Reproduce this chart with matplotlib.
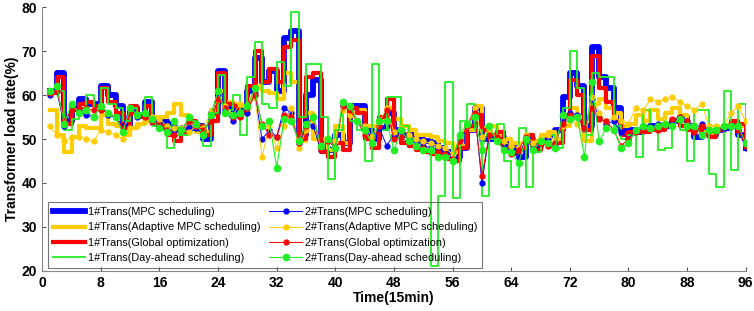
import numpy as np
import matplotlib
matplotlib.use('Agg')
import matplotlib.pyplot as plt

plt.rcParams['font.family'] = ['Liberation Sans', 'DejaVu Sans']

# Time steps (15 min)
t = np.arange(1, 97)

# 1#Trans, stairs
mpc1 = [61, 65, 54, 57, 59, 58, 58, 62, 60, 57.5, 53, 57, 55.5, 58.5, 54, 54,
        53.5, 52, 51.5, 52.5, 53, 50, 56, 65.5, 57.5, 56.5, 57, 61, 68.5, 63, 65.5, 61,
        73, 74.5, 51, 60, 63.5, 48, 47.5, 51, 49, 57.5, 57.5, 52, 50, 52.5, 56, 52,
        51, 51, 50, 49.5, 49, 48, 47, 46, 48, 52, 57, 50, 50, 50.5, 49, 48,
        46, 50, 48.5, 49.5, 51, 52, 59.5, 65, 62, 53, 71, 64, 61.5, 57, 52, 52,
        51.5, 52, 53, 53, 53, 54, 55, 53, 50.5, 52, 51, 52, 52.5, 53, 51, 48]
adaptive1 = [56.5, 51, 47, 50.5, 53, 52.5, 52.5, 55.5, 53.5, 53, 51, 52.5, 53.5, 54, 55, 55,
             56, 58, 55.5, 52.5, 51.5, 51.5, 56.5, 61, 58.5, 58, 57.5, 59, 62, 61, 60.5, 59,
             65, 63, 49.5, 56, 50, 50, 47.5, 53, 49, 56, 56.5, 53, 53, 54.5, 57, 54.5,
             53, 52, 51, 51, 50.5, 49.5, 49, 47, 48.5, 52, 57.5, 52.5, 53, 51, 50, 49,
             48, 51, 49.5, 51, 51.5, 50, 53, 57, 55, 49.5, 58, 59, 57, 56, 53, 53.5,
             55.5, 54, 56.5, 54.5, 56, 57, 55.5, 53, 52.5, 51.5, 51, 52, 53, 54, 53, 49]
global1 = [60.5, 64, 53.5, 56.5, 58, 58.5, 57.5, 61.5, 58.5, 56, 52.5, 57.5, 55, 57.5, 53.5, 53,
           51, 49.5, 51.5, 54, 53, 51, 54, 65, 58, 57.5, 56, 62, 70, 63, 66, 63,
           71, 72.5, 50, 64, 65, 47, 46, 49, 47.5, 57, 56, 50, 48, 55, 59, 50.5,
           49, 48.5, 47.5, 47, 46.5, 46.5, 45.5, 45, 48, 53, 55.5, 52, 51, 51.5, 48, 46.5,
           48, 51, 47.5, 49, 48.5, 49, 55.5, 63.5, 60, 52, 69, 61.5, 58.5, 54, 51, 51.5,
           51.5, 51.5, 52, 52, 53.5, 54, 53, 52, 52, 51, 50.5, 52, 53, 54, 53.5, 48.5]
dayahead1 = [61, 61, 52, 54.5, 57, 60, 56.5, 61.5, 58, 57, 54, 57, 56, 59.5, 53, 52,
             48, 51, 51, 54, 52, 48.5, 56, 64.5, 56.5, 60, 51, 64, 72, 58, 57, 67.5,
             62, 79, 55, 67, 67, 55, 41, 52, 58, 54, 52, 45, 67, 52, 59.5, 59.5,
             53, 50, 49, 47, 21, 37, 63, 36.5, 54, 58, 52, 37, 50, 53.5, 45, 39,
             52.5, 39, 47, 49.5, 51, 48, 57, 70, 61.5, 51, 65, 64, 64, 53, 50, 51,
             46, 56.5, 52, 47.5, 48, 54, 52, 45, 56.5, 56.5, 42, 39, 61, 43, 58, 49]

# 2#Trans, lines with markers
mpc2 = [60, 61, 53, 57, 56.5, 55.5, 55, 57.5, 55.5, 55, 53, 57, 55, 55.5, 54, 53,
        52, 52, 52.5, 52.5, 52.5, 51, 55, 60, 56.5, 54, 55.5, 56, 60.5, 50, 52, 50.5,
        57, 56, 49, 54, 53, 47.5, 50, 48, 57.5, 57.5, 54, 52.5, 50, 52.5, 48.5, 51,
        51.5, 50, 49.5, 48.5, 48, 47.5, 47, 46, 50, 53, 57, 40, 51, 50, 48, 47.5,
        46, 50, 48, 49.5, 50, 48.5, 54, 56, 55.5, 52, 59, 55, 53.5, 54, 51.5, 50,
        52, 53, 53, 53.5, 53.5, 54, 55, 54, 52, 53.5, 52, 52, 52.5, 53, 52, 48]
adaptive2 = [53, 51, 49.5, 50.5, 50.5, 50, 49.5, 52, 51.5, 51, 50, 52.5, 53, 54, 55, 54.5,
             53, 52.5, 52.5, 51.5, 53, 52.5, 56, 59, 57.5, 55.5, 58, 57, 60, 46, 53, 48,
             53, 57, 48, 52, 55.5, 48, 50, 49.5, 56.5, 55.5, 54, 53, 50.5, 54, 57, 51.5,
             52.5, 51, 50, 49.5, 49, 48.5, 48, 46.5, 50.5, 53, 57, 50.5, 52, 50.5, 49.5, 48.5,
             48, 51, 49, 50.5, 51, 49.5, 53, 54.5, 53.5, 51, 59.5, 56, 54, 55, 54, 53.5,
             57, 56.5, 59, 58.5, 59, 59.5, 58.5, 57.5, 56.5, 58, 53, 53, 53, 56, 57.5, 54]
global2 = [60.5, 61, 54, 56.5, 57, 57, 56.5, 56.5, 56, 55, 52.5, 56, 55.5, 55, 54, 53,
           52, 51, 52, 54, 53, 52, 54, 59, 57, 55, 55, 57, 60, 53.5, 51, 50.5,
           55.5, 55, 49, 53, 55, 47.5, 49.5, 48, 57.5, 56.5, 54, 51, 49, 53, 56.5, 50,
           50.5, 49, 48.5, 48, 47.5, 47, 46.5, 45.5, 49.5, 53, 56, 41.5, 51, 50.5, 47.5, 46.5,
           47.5, 50.5, 47.5, 49, 48.5, 49, 53.5, 55.5, 55, 52.5, 57, 54.5, 54, 52, 48.5, 50,
           51.5, 52, 52.5, 52, 53, 54.5, 55, 54, 51.5, 53, 52, 51.5, 53, 53.5, 52, 48.5]
dayahead2 = [61, 62, 53.5, 58, 56, 56.5, 55, 57.5, 56, 55, 51.5, 57, 55.5, 56, 54.5, 52.5,
             51.5, 54, 52, 55, 53.5, 51, 55.5, 61, 56, 55.5, 56, 57.5, 61.5, 53, 54, 43.5,
             54.5, 54, 49.5, 53.5, 55, 48.5, 50, 48, 58.5, 57.5, 54, 52, 49, 54, 54, 47.5,
             52, 49.5, 48.5, 47.5, 47.5, 46, 46, 45, 51, 53.5, 55, 47.5, 53, 49.5, 47.5, 47,
             44.5, 50, 47.5, 49.5, 49, 48, 55.5, 54.5, 55, 46, 63, 49.5, 52.5, 52, 48, 49,
             52, 53, 52.5, 53, 53.5, 53, 54.5, 53, 53, 51, 52, 52, 53, 53, 53, 49]

fig, ax = plt.subplots(figsize=(7.54, 3.11), dpi=100)
fig.subplots_adjust(left=0.056, right=0.989, top=0.977, bottom=0.129)

blue = '#0000FF'
gold = '#FFCC00'
red = '#FF0000'
green = '#22EE22'

h1, = ax.step(t, mpc1, where='post', color=blue, lw=4.2, label='1#Trans(MPC scheduling)')
h2, = ax.step(t, adaptive1, where='post', color=gold, lw=3, label='1#Trans(Adaptive MPC scheduling)')
h3, = ax.step(t, global1, where='post', color=red, lw=3, label='1#Trans(Global optimization)')
h4, = ax.step(t, dayahead1, where='post', color=green, lw=1.3, label='1#Trans(Day-ahead scheduling)')

h5, = ax.plot(t, mpc2, color=blue, lw=0.7, marker='o', ms=3.5, label='2#Trans(MPC scheduling)')
h6, = ax.plot(t, adaptive2, color=gold, lw=0.7, marker='o', ms=3.5, label='2#Trans(Adaptive MPC scheduling)')
h7, = ax.plot(t, global2, color=red, lw=0.7, marker='o', ms=3.5, label='2#Trans(Global optimization)')
h8, = ax.plot(t, dayahead2, color=green, lw=0.8, marker='o', ms=4.5, label='2#Trans(Day-ahead scheduling)')

ax.set_xlim(0, 96)
ax.set_ylim(20, 80)
ax.set_xticks(np.arange(0, 97, 8))
ax.set_yticks(np.arange(20, 81, 10))
ax.tick_params(direction='in', length=3, labelsize=10, color='#555555')
for lab in ax.get_xticklabels() + ax.get_yticklabels():
    lab.set_fontweight('bold')
for s in ['top', 'right']:
    ax.spines[s].set_visible(False)
for s in ['left', 'bottom']:
    ax.spines[s].set_color('#888888')

ax.set_xlabel('Time(15min)', fontsize=10, fontweight='bold', labelpad=1)
ax.set_ylabel('Transformer load rate(%)', fontsize=10, fontweight='bold', labelpad=2)

# legend box is see-through in the original (day-ahead dips show through it)
leg = ax.legend(handles=[h1, h2, h3, h4, h5, h6, h7, h8], ncol=2, loc='lower left',
                bbox_to_anchor=(0.0, -0.01), fontsize=7.8, frameon=True, fancybox=False,
                handlelength=3.0, columnspacing=0.8, labelspacing=0.5,
                borderpad=0.45, handletextpad=0.3)
leg.get_frame().set_facecolor('none')
leg.get_frame().set_edgecolor('#555555')
leg.get_frame().set_linewidth(0.8)

plt.savefig('out.png', dpi=100)
